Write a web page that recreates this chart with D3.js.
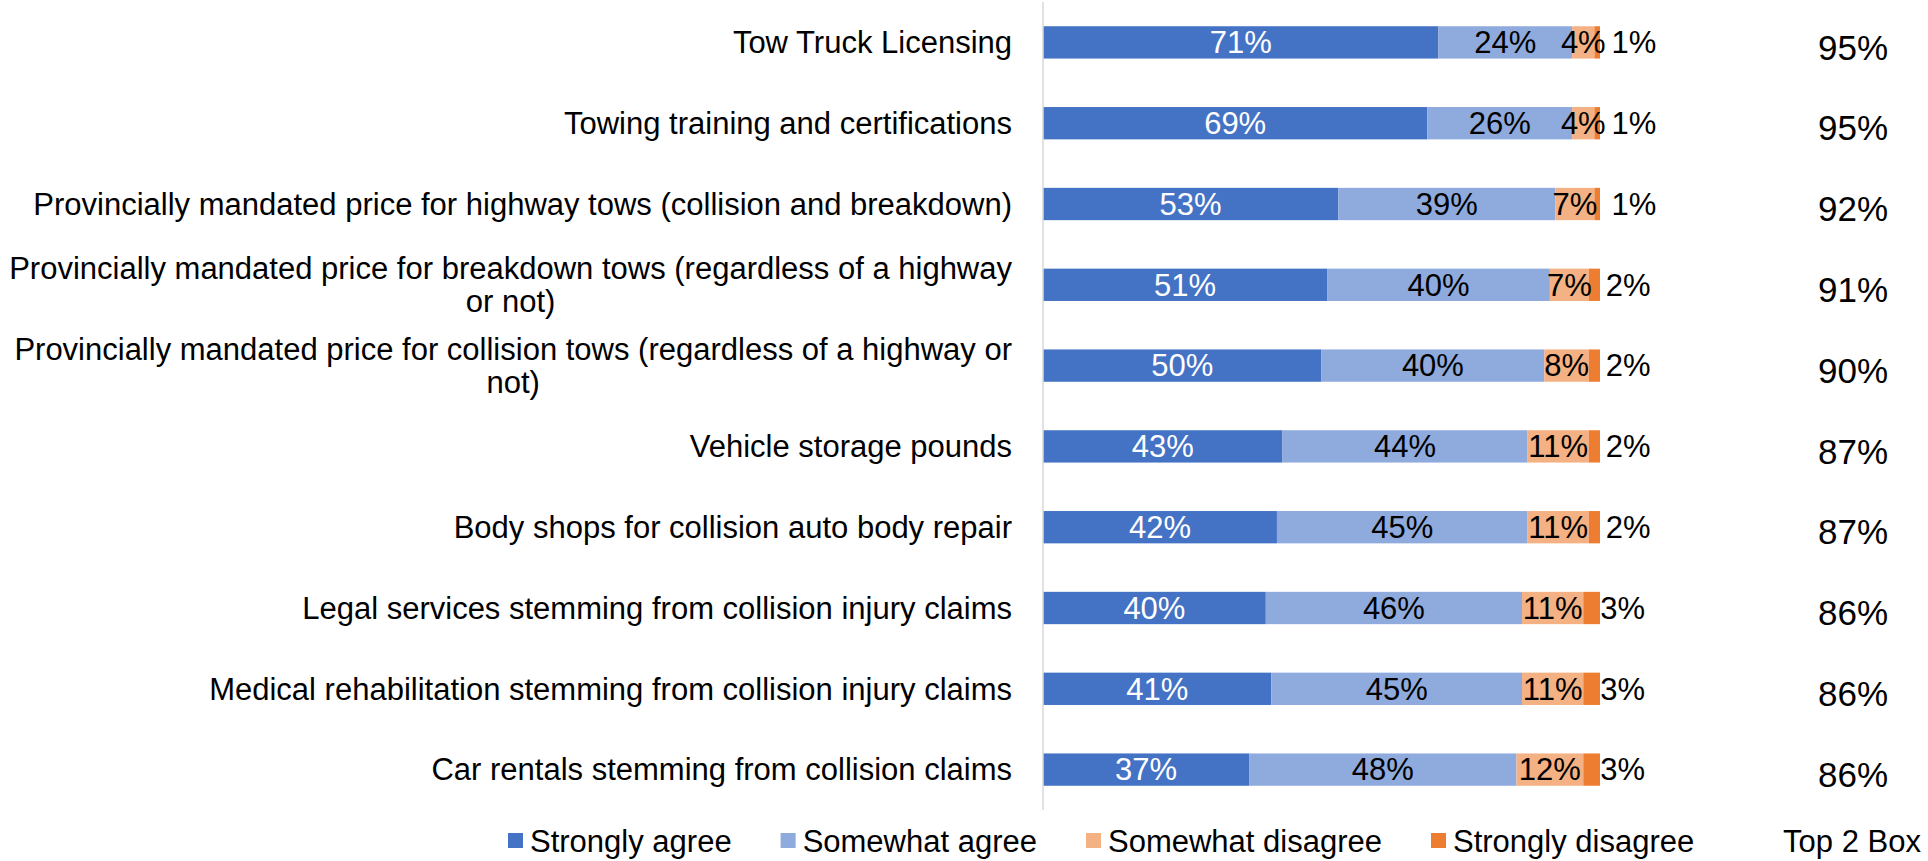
<!DOCTYPE html>
<html>
<head>
<meta charset="utf-8">
<script src="https://cdn.jsdelivr.net/npm/d3@7"></script>
<style>
  body { margin: 0; background: #fff; }
  text { font-family: "Liberation Sans", Arial, sans-serif; }
</style>
</head>
<body>
<div id="chart"></div>
<script>
// chart values
const categories = [
  "Tow Truck Licensing",
  "Towing training and certifications",
  "Provincially mandated price for highway tows (collision and breakdown)",
  "Provincially mandated price for breakdown tows (regardless of a highway or not)",
  "Provincially mandated price for collision tows (regardless of a highway or not)",
  "Vehicle storage pounds",
  "Body shops for collision auto body repair",
  "Legal services stemming from collision injury claims",
  "Medical rehabilitation stemming from collision injury claims",
  "Car rentals stemming from collision claims"
];
const seriesNames = ["Strongly agree", "Somewhat agree", "Somewhat disagree", "Strongly disagree"];
const stronglyAgree = [71, 69, 53, 51, 50, 43, 42, 40, 41, 37];
const somewhatAgree = [24, 26, 39, 40, 40, 44, 45, 46, 45, 48];
const somewhatDisagree = [4, 4, 7, 7, 8, 11, 11, 11, 11, 12];
const stronglyDisagree = [1, 1, 1, 2, 2, 2, 2, 3, 3, 3];
const top2Box = [95, 95, 92, 91, 90, 87, 87, 86, 86, 86];
const top2Title = "Top 2 Box";

class StackedBar {
  constructor(_config) {
    this.config = {
      parentElement: _config.parentElement,
      containerWidth: 1928,
      containerHeight: 861,
      margin: { top: 2, left: 1043, bottom: 51, right: 328 },
      colors: ["#4472C4", "#8FAADC", "#F4B183", "#ED7D31"],
      fontSize: 31
    };
    this.initVis();
  }

  initVis() {
    let vis = this;
    const c = vis.config;
    vis.width = c.containerWidth - c.margin.left - c.margin.right;
    vis.height = c.containerHeight - c.margin.top - c.margin.bottom;

    vis.svg = d3.select(c.parentElement).append("svg")
      .attr("width", c.containerWidth)
      .attr("height", c.containerHeight);

    vis.g = vis.svg.append("g")
      .attr("transform", `translate(${c.margin.left},${c.margin.top})`);

    // one row object per category
    const rows = categories.map((cat, i) => ({
      cat: cat,
      [seriesNames[0]]: stronglyAgree[i],
      [seriesNames[1]]: somewhatAgree[i],
      [seriesNames[2]]: somewhatDisagree[i],
      [seriesNames[3]]: stronglyDisagree[i],
      top2: top2Box[i]
    }));

    const x = d3.scaleLinear().domain([0, 100]).range([0, vis.width]);
    const y = d3.scaleBand().domain(categories).range([0, vis.height]).paddingInner(0.6).paddingOuter(0.3);
    const color = d3.scaleOrdinal().domain(seriesNames).range(c.colors);

    const stacked = d3.stack().keys(seriesNames)(rows);

    // bars
    const layers = vis.g.selectAll(".layer")
      .data(stacked)
      .join("g")
      .attr("class", "layer")
      .attr("fill", d => color(d.key));

    layers.selectAll("rect")
      .data(d => d)
      .join("rect")
      .attr("x", d => x(d[0]))
      .attr("y", d => y(d.data.cat))
      .attr("width", d => x(d[1]) - x(d[0]))
      .attr("height", y.bandwidth());

    // data labels (last series sits just past its segment)
    stacked.forEach((layer, li) => {
      vis.g.append("g").selectAll("text")
        .data(layer)
        .join("text")
        .attr("x", d => li === 3 ? x(d[0]) + 17 : (x(d[0]) + x(d[1])) / 2)
        .attr("y", d => y(d.data.cat) + y.bandwidth() / 2)
        .attr("dy", "0.35em")
        .attr("text-anchor", li === 3 ? "start" : "middle")
        .attr("fill", li === 0 ? "#fff" : "#000")
        .style("font-size", c.fontSize + "px")
        .text(d => (d[1] - d[0]) + "%");
    });

    // vertical axis line
    vis.g.append("line")
      .attr("x1", 0).attr("x2", 0)
      .attr("y1", 0).attr("y2", vis.height)
      .attr("stroke", "#d9d9d9")
      .attr("stroke-width", 1.5);

    // category labels (wrapped, centred block, right edge near axis)
    const labelRight = -31;
    const maxW = 1005;
    const lineH = 33;
    categories.forEach(cat => {
      const t = vis.g.append("text")
        .style("font-size", c.fontSize + "px")
        .attr("fill", "#000");
      // word wrap
      const words = cat.split(" ");
      let lines = [];
      let cur = [];
      words.forEach(w => {
        cur.push(w);
        t.text(cur.join(" "));
        if (t.node().getComputedTextLength() > maxW && cur.length > 1) {
          cur.pop();
          lines.push(cur.join(" "));
          cur = [w];
        }
      });
      lines.push(cur.join(" "));
      t.text(null);
      let blockW = 0;
      lines.forEach(l => {
        t.text(l);
        blockW = Math.max(blockW, t.node().getComputedTextLength());
      });
      t.text(null);
      const cx = labelRight - blockW / 2;
      const cy = y(cat) + y.bandwidth() / 2;
      lines.forEach((l, k) => {
        t.append("tspan")
          .attr("x", cx)
          .attr("y", cy + (k - (lines.length - 1) / 2) * lineH)
          .attr("dy", "0.35em")
          .attr("text-anchor", "middle")
          .text(l);
      });
    });

    // Top 2 Box column
    const top2X = 1853 - c.margin.left;
    vis.g.append("g").selectAll("text")
      .data(rows)
      .join("text")
      .attr("x", top2X)
      .attr("y", d => y(d.cat) + y.bandwidth() / 2 + 5)
      .attr("dy", "0.35em")
      .attr("text-anchor", "middle")
      .style("font-size", "35px")
      .attr("fill", "#000")
      .text(d => d.top2 + "%");

    // legend
    const legend = vis.svg.append("g").attr("transform", "translate(508,841)");
    let lx = 0;
    seriesNames.forEach(name => {
      const item = legend.append("g").attr("transform", `translate(${lx},0)`);
      item.append("rect")
        .attr("x", 0).attr("y", -8)
        .attr("width", 15).attr("height", 15)
        .attr("fill", color(name));
      const txt = item.append("text")
        .attr("x", 22)
        .attr("dy", "0.35em")
        .style("font-size", c.fontSize + "px")
        .attr("fill", "#000")
        .text(name);
      lx += 22 + txt.node().getComputedTextLength() + 49;
    });
    vis.svg.append("text")
      .attr("x", 1852)
      .attr("y", 841)
      .attr("dy", "0.35em")
      .attr("text-anchor", "middle")
      .style("font-size", c.fontSize + "px")
      .attr("fill", "#000")
      .text(top2Title);
  }
}

new StackedBar({ parentElement: "#chart" });
</script>
</body>
</html>
